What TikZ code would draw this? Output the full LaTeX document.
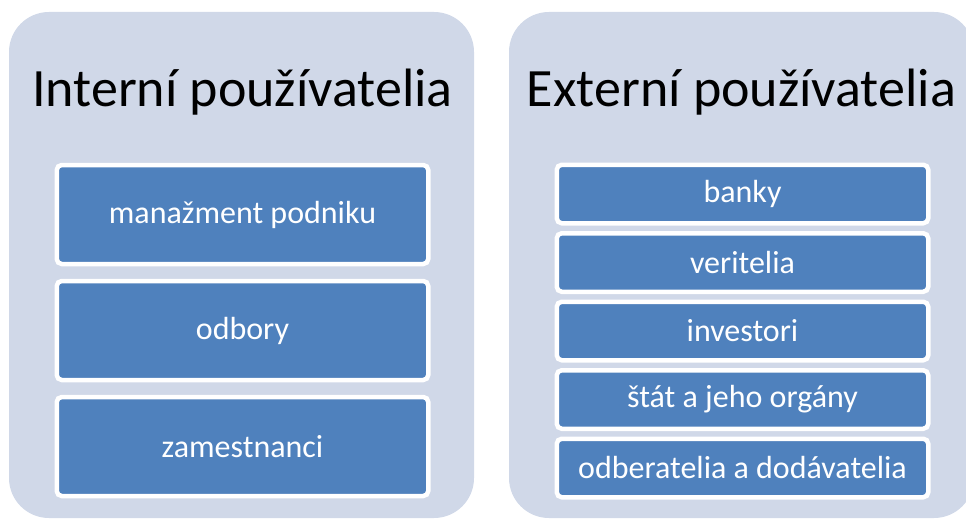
\documentclass[tikz,border=0pt]{standalone}
\usepackage{fontspec}
\setmainfont{Carlito}
\usepackage{tikz}
\usetikzlibrary{positioning}
\definecolor{panelgray}{HTML}{D0D8E8}
\definecolor{boxblue}{HTML}{4F81BD}
\tikzset{
  panel/.style={fill=panelgray, rounded corners=40pt, minimum width=465pt,
    minimum height=506pt, inner sep=0pt},
  title/.style={font={\fontsize{54pt}{58pt}\selectfont}, anchor=base, inner sep=0pt},
  bigbox/.style={fill=boxblue, draw=white, line width=4.5pt, rounded corners=5pt,
    minimum width=371.5pt, minimum height=99pt, text=white,
    font={\fontsize{32pt}{35pt}\selectfont}},
  smallbox/.style={fill=boxblue, draw=white, line width=4.5pt, rounded corners=5pt,
    minimum width=371.5pt, minimum height=58.5pt, text=white,
    font={\fontsize{32pt}{35pt}\selectfont}}}

\begin{document}
\begin{tikzpicture}[x=1pt,y=-1pt]
\useasboundingbox (0,0) rectangle (966,519);
% panels
\node [panel] (intpanel) at (241.5,265) {};
\node [panel] (extpanel) at (741.5,265) {};
\node [title] (inttitle) at (242.5,106) {Interní používatelia};
\node [title] (exttitle) at (741.5,106) {Externí používatelia};
% internal users
\node [bigbox] (manaz) at (242.5,214.5) {manažment podniku};
\node [bigbox, below=12.5pt of manaz] (odbory) {odbory};
\node [bigbox, below=12.5pt of odbory] (zamest) {zamestnanci};
% external users
\node [smallbox] (banky) at (742.5,194) {banky};
\node [smallbox, below=5.5pt of banky] (veritel) {veritelia};
\node [smallbox, below=5.5pt of veritel] (invest) {investori};
\node [smallbox, below=5.5pt of invest] (stat) {štát a jeho orgány};
\node [smallbox, below=5.5pt of stat] (odber) {odberatelia a dodávatelia};
\end{tikzpicture}
\end{document}
